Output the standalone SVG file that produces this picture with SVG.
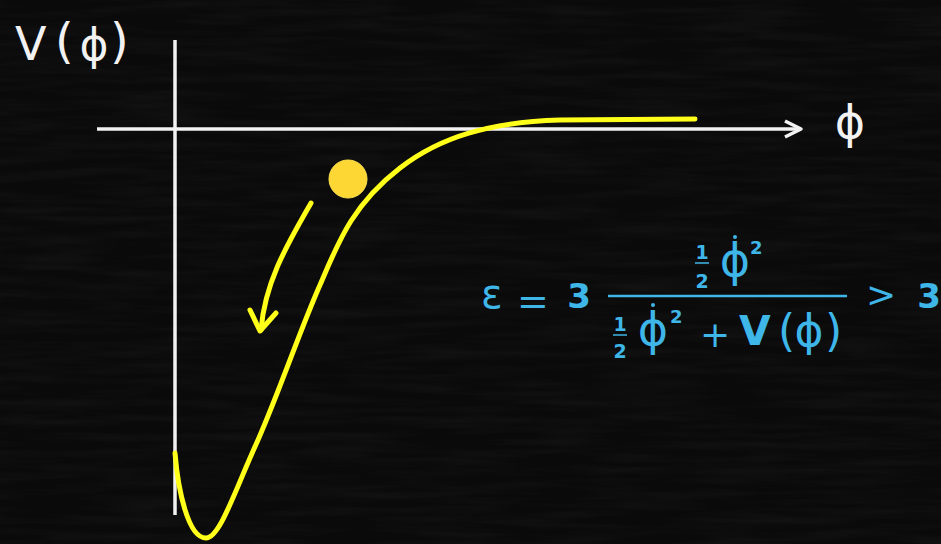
<svg xmlns="http://www.w3.org/2000/svg" width="941" height="544" viewBox="0 0 941 544">
  <style>
    .axis { stroke: #f2f2f2; stroke-width: 3.5; fill: none; stroke-linecap: butt; }
    .yel { stroke: #ffff1a; stroke-width: 5; fill: none; stroke-linecap: round; stroke-linejoin: round; }
    .wt { fill: #f2f2f2; font-family: "DejaVu Sans", "Liberation Sans", sans-serif; }
    .eq { fill: #3fb6e8; font-family: "DejaVu Sans", "Liberation Sans", sans-serif; }
    .eqline { stroke: #3fb6e8; fill: none; }
  </style>
  <defs>
    <filter id="chalk" x="0" y="0" width="100%" height="100%">
      <feTurbulence type="fractalNoise" baseFrequency="0.01 0.12" numOctaves="3" seed="4" result="n"/>
      <feColorMatrix in="n" type="matrix" values="0 0 0 0 1  0 0 0 0 1  0 0 0 0 1  0 0 0 0.3 -0.1"/>
    </filter>
  </defs>
  <rect width="941" height="544" fill="#0a0a0a"/>
  <rect width="941" height="544" filter="url(#chalk)" opacity="0.2"/>

  <g id="axes">
    <line class="axis" x1="175" y1="40" x2="175" y2="515"/>
    <line class="axis" x1="97" y1="129" x2="800" y2="129"/>
    <polyline class="axis" points="785,121 801,129 785,137" stroke-linejoin="round" stroke-linecap="round"/>
  </g>

  <g id="potential-curve">
    <path class="yel" d="M175,453 C178,490 188,538 206,538 C220,538 235,490 258,440 C280,390 300,330 320,285 C338,243 352,205 400,168 C440,137 490,122 560,120 L695,119"/>
  </g>

  <g id="ball">
    <circle cx="348" cy="179" r="19" fill="#fdd835" stroke="#ffe34d" stroke-width="1"/>
  </g>

  <g id="connectors">
    <path class="yel" d="M311,203 C290,240 265,280 261,330"/>
    <polyline class="yel" points="250,310 260,331 276,313"/>
  </g>

  <g id="label-V">
    <text class="wt" x="15" y="60" font-size="46">V</text>
    <text class="wt" x="55" y="58" font-size="48">(</text>
    <text class="wt" x="94" y="60" font-size="44" text-anchor="middle">ϕ</text>
    <text class="wt" x="110" y="58" font-size="48">)</text>
  </g>

  <g id="label-phi">
    <text class="wt" x="850" y="138" font-size="46" text-anchor="middle">ϕ</text>
  </g>

  <g id="equation">
    <text class="eq" x="481" y="308" font-size="40">ε</text>
    <text class="eq" x="533" y="314" font-size="38" text-anchor="middle">=</text>
    <text class="eq" x="579" y="308" font-size="34" font-weight="bold" text-anchor="middle">3</text>
    <line class="eqline" x1="608" y1="296" x2="847" y2="296" stroke-width="2.5"/>
    <!-- numerator -->
    <text class="eq" x="702" y="259" font-size="19" font-weight="bold" text-anchor="middle">1</text>
    <line class="eqline" x1="695" y1="263" x2="709" y2="263" stroke-width="1.5"/>
    <text class="eq" x="702" y="288" font-size="19" font-weight="bold" text-anchor="middle">2</text>
    <circle cx="735" cy="237" r="2" fill="#3fb6e8"/>
    <text class="eq" x="735" y="276" font-size="46" text-anchor="middle">ϕ</text>
    <text class="eq" x="750" y="254" font-size="18" font-weight="bold">2</text>
    <!-- denominator -->
    <text class="eq" x="620" y="331" font-size="19" font-weight="bold" text-anchor="middle">1</text>
    <line class="eqline" x1="613" y1="335" x2="627" y2="335" stroke-width="1.5"/>
    <text class="eq" x="620" y="358" font-size="19" font-weight="bold" text-anchor="middle">2</text>
    <circle cx="653" cy="305" r="2" fill="#3fb6e8"/>
    <text class="eq" x="653" y="345" font-size="46" text-anchor="middle">ϕ</text>
    <text class="eq" x="670" y="323" font-size="18" font-weight="bold">2</text>
    <text class="eq" x="715" y="347" font-size="36" text-anchor="middle">+</text>
    <text class="eq" x="739" y="345" font-size="41" font-weight="bold">V</text>
    <text class="eq" x="778" y="346" font-size="44">(</text>
    <text class="eq" x="809" y="346" font-size="44" text-anchor="middle">ϕ</text>
    <text class="eq" x="825" y="346" font-size="44">)</text>
    <text class="eq" x="881" y="307" font-size="36" text-anchor="middle">&gt;</text>
    <text class="eq" x="929" y="308" font-size="34" font-weight="bold" text-anchor="middle">3</text>
  </g>
</svg>
